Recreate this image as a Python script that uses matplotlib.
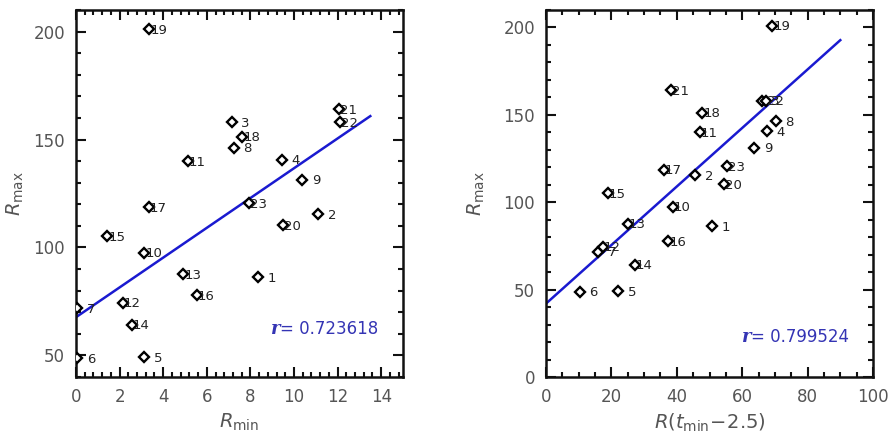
import numpy as np
import matplotlib
matplotlib.use("Agg")
import matplotlib.pyplot as plt
from matplotlib.ticker import MultipleLocator

# ---- data ----
event_ids = list(range(1, 24))
r_max = [86.3, 115.4, 158.0, 140.6, 49.2, 48.8, 71.8, 146.3, 131.3, 97.5, 140.0, 74.5,
         87.6, 64.1, 105.2, 77.8, 118.6, 151.2, 201.0, 110.2, 164.0, 158.0, 120.5]
r_min = [8.33, 11.11, 7.14, 9.44, 3.12, 0.06, 0.06, 7.23, 10.38, 3.14, 5.14, 2.15,
         4.92, 2.56, 1.43, 5.53, 3.35, 7.63, 3.35, 9.50, 12.05, 12.13, 7.93]
r_tmin = [50.7, 45.6, 66.0, 67.6, 22.0, 10.3, 16.0, 70.3, 63.7, 38.8, 47.0, 17.4,
          25.0, 27.1, 18.9, 37.3, 36.1, 47.8, 69.1, 54.4, 38.2, 67.4, 55.5]

# linear fits as drawn: (intercept, slope, x-end)
fit_left = (67.7, 6.90, 13.5)
fit_right = (42.0, 1.675, 90.0)
r_left = "0.723618"
r_right = "0.799524"

fig = plt.figure(figsize=(8.9, 4.47), dpi=100)
ax1 = fig.add_axes([76/890, 70/447, 327/890, 367/447])
ax2 = fig.add_axes([546/890, 70/447, 327/890, 367/447])

blue_line = "#1a1ad0"
blue_text = "#3434b4"
tick_col = "#555555"


def style(ax, xmaj, xmin_, ymaj, ymin_):
    for s in ax.spines.values():
        s.set_linewidth(1.8)
        s.set_color("#111111")
    ax.xaxis.set_major_locator(MultipleLocator(xmaj))
    ax.xaxis.set_minor_locator(MultipleLocator(xmin_))
    ax.yaxis.set_major_locator(MultipleLocator(ymaj))
    ax.yaxis.set_minor_locator(MultipleLocator(ymin_))
    ax.tick_params(which="both", direction="in", top=True, right=True,
                   color="#111111", width=1.5)
    ax.tick_params(which="major", length=7, labelsize=12, labelcolor=tick_col, pad=8)
    ax.tick_params(which="minor", length=3.5)


def draw(ax, xs, fit, rtxt, rpos):
    ax.plot(xs, r_max, linestyle="none", marker="D", ms=5.2, mfc="white",
            mec="black", mew=1.7, zorder=3)
    for x, y, n in zip(xs, r_max, event_ids):
        ax.annotate(str(n), (x, y), xytext=(18, -1), textcoords="offset pixels",
                    ha="right", va="center", fontsize=9.5, color="#222222", zorder=4)
    b, m, xe = fit
    xx = np.array([0.0, xe])
    ax.plot(xx, b + m * xx, color=blue_line, lw=1.8, zorder=2)
    ax.text(rpos[0], rpos[1], "r", fontsize=13,
            style="italic", fontweight="bold", color=blue_text, family="DejaVu Serif",
            ha="left", va="center")
    ax.annotate("= " + rtxt, (rpos[0], rpos[1]), xytext=(9, 0),
                textcoords="offset pixels", fontsize=12, color=blue_text,
                ha="left", va="center")


draw(ax1, r_min, fit_left, r_left, (8.95, 62.3))
ax1.set_xlim(0, 15)
ax1.set_ylim(40, 210)
style(ax1, 2, 0.4, 50, 10)
ax1.set_xlabel(r"$R_{\rm min}$", fontsize=14, color=tick_col, labelpad=4)
ax1.set_ylabel(r"$R_{\rm max}$", fontsize=14, color=tick_col, labelpad=5)

draw(ax2, r_tmin, fit_right, r_right, (60.0, 22.8))
ax2.set_xlim(0, 100)
ax2.set_ylim(0, 210)
style(ax2, 20, 5, 50, 10)
ax2.set_xlabel(r"$R(t_{\rm min}\!-\!2.5)$", fontsize=14, color=tick_col, labelpad=4)
ax2.set_ylabel(r"$R_{\rm max}$", fontsize=14, color=tick_col, labelpad=12)

fig.savefig("out.png", dpi=100)
